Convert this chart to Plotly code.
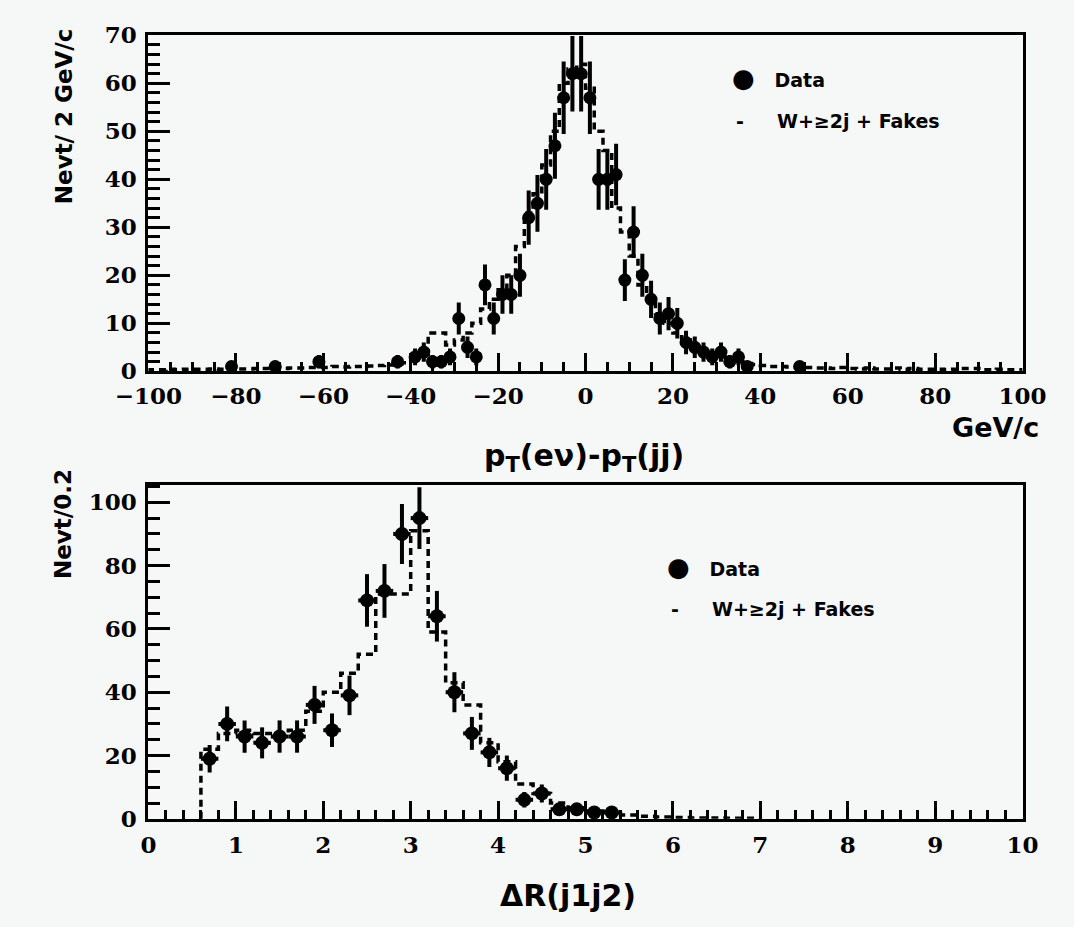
import numpy as np
import plotly.graph_objects as go

W, H = 1074, 927

# ---------------- top panel: pT(e nu) - pT(jj), 2 GeV/c bins ----------------
pt_data_centers = [-81, -71, -61, -43, -39, -37, -35, -33, -31, -29, -27, -25,
                   -23, -21, -19, -17, -15, -13, -11, -9, -7, -5, -3, -1,
                   1, 3, 5, 7, 9, 11, 13, 15, 17, 19, 21, 23, 25, 27, 29, 31,
                   33, 35, 37, 49]
pt_data_counts = [1, 1, 2, 2, 3, 4, 2, 2, 3, 11, 5, 3,
                  18, 11, 16, 16, 20, 32, 35, 40, 47, 57, 62, 62,
                  57, 40, 40, 41, 19, 29, 20, 15, 11, 12, 10, 6, 5, 4, 3, 4,
                  2, 3, 1, 1]

pt_bin_width = 2.0
pt_bin_low = list(range(-100, 100, 2))
pt_mc_counts = [
    0.3, 0.3, 0.4, 0.3, 0.4, 0.4, 0.4, 0.5, 0.4, 0.6,      # -100 .. -82
    0.5, 0.5, 0.6, 0.6, 0.7, 0.6, 0.7, 0.7, 0.8, 0.8,      # -80 .. -62
    0.8, 1.0, 0.9, 1.0, 1.0, 1.1, 1.2, 1.3, 1.5, 1.8,      # -60 .. -42
    2.3, 3.5, 8.0, 8.0, 5.5, 6.5, 8.0, 10.0, 13.0, 15.0,   # -40 .. -22
    17.0, 20.0, 26.0, 33.0, 37.0, 43.0, 50.0, 60.0, 63.0, 64.0,  # -20 .. -2
    59.0, 50.0, 46.0, 34.0, 29.0, 24.0, 18.0, 15.0, 12.0, 10.0,  # 0 .. 18
    8.0, 6.5, 5.0, 4.0, 3.5, 3.0, 2.5, 2.0, 1.6, 1.4,      # 20 .. 38
    1.2, 1.0, 1.0, 0.9, 0.9, 0.8, 0.7, 0.7, 0.6, 0.8,      # 40 .. 58
    0.6, 0.5, 0.7, 0.5, 0.5, 0.7, 0.4, 0.6, 0.4, 0.4,      # 60 .. 78
    0.4, 0.3, 0.4, 0.6, 0.6, 0.3, 0.3, 0.4, 0.3, 0.3,      # 80 .. 98
]

# ---------------- bottom panel: Delta R(j1 j2), 0.2 bins ----------------
dr_data_centers = [0.7, 0.9, 1.1, 1.3, 1.5, 1.7, 1.9, 2.1, 2.3, 2.5, 2.7, 2.9,
                   3.1, 3.3, 3.5, 3.7, 3.9, 4.1, 4.3, 4.5, 4.7, 4.9, 5.1, 5.3]
dr_data_counts = [19, 30, 26, 24, 26, 26, 36, 28, 39, 69, 72, 90,
                  95, 64, 40, 27, 21, 16, 6, 8, 3, 3, 2, 2]

dr_bin_width = 0.2
dr_bin_low = [0.6, 0.8, 1.0, 1.2, 1.4, 1.6, 1.8, 2.0, 2.2, 2.4, 2.6, 2.8,
              3.0, 3.2, 3.4, 3.6, 3.8, 4.0, 4.2, 4.4, 4.6, 4.8, 5.0, 5.2,
              5.4, 5.6, 5.8, 6.0, 6.2, 6.4, 6.6, 6.8]
dr_mc_counts = [22, 27, 28, 27, 27, 28, 34, 40, 46, 52, 71, 71,
                91, 59, 43, 36, 24, 18, 11, 8, 5, 3.5, 2.5, 1.8,
                1.2, 0.8, 0.6, 0.4, 0.3, 0.3, 0.2, 0.2]

# legend entries
legend_labels = ["Data", "W+\u22652j + Fakes"]

# ---------------- styling ----------------
INK = "black"
BG = "#f6f7f7"
SERIF = "DejaVu Serif"
SANS = "DejaVu Sans"
MC_DASH = "7px,5px"


def px_x(x):
    return x / W


def px_y(y):
    return 1 - y / H


def step_xy(lows, width, counts, drop_to_zero):
    xs = [lows[0]] + list(lows) + [lows[-1] + width]
    ys = [0] + list(counts) + [counts[-1]]
    if drop_to_zero:
        xs.append(lows[-1] + width)
        ys.append(0)
    return xs, ys


fig = go.Figure()

# top panel traces
mx, my = step_xy(pt_bin_low, pt_bin_width, pt_mc_counts, False)
fig.add_trace(go.Scatter(
    x=mx, y=my, mode="lines", line_shape="hv",
    line=dict(color=INK, width=3.5, dash=MC_DASH),
    xaxis="x", yaxis="y", showlegend=False, hoverinfo="skip"))
fig.add_trace(go.Scatter(
    x=pt_data_centers, y=pt_data_counts, mode="markers",
    marker=dict(symbol="circle", size=13, color=INK),
    error_y=dict(type="data", array=np.sqrt(pt_data_counts), color=INK,
                 thickness=4, width=0),
    error_x=dict(type="constant", value=pt_bin_width / 2, color=INK,
                 thickness=4, width=0),
    cliponaxis=False, xaxis="x", yaxis="y", showlegend=False))

# bottom panel traces
bx, by = step_xy(dr_bin_low, dr_bin_width, dr_mc_counts, True)
fig.add_trace(go.Scatter(
    x=bx, y=by, mode="lines", line_shape="hv",
    line=dict(color=INK, width=3.5, dash=MC_DASH),
    xaxis="x2", yaxis="y2", showlegend=False, hoverinfo="skip"))
fig.add_trace(go.Scatter(
    x=dr_data_centers, y=dr_data_counts, mode="markers",
    marker=dict(symbol="circle", size=14, color=INK),
    error_y=dict(type="data", array=np.sqrt(dr_data_counts), color=INK,
                 thickness=4, width=0),
    error_x=dict(type="constant", value=dr_bin_width / 2, color=INK,
                 thickness=4, width=0),
    cliponaxis=False, xaxis="x2", yaxis="y2", showlegend=False))

tick_font = dict(family=SERIF, size=23, color=INK, weight="bold")


def axis_common(**kw):
    base = dict(showline=True, linewidth=3, linecolor=INK, mirror=True,
                ticks="inside", tickwidth=3, tickcolor=INK,
                showgrid=False, zeroline=False, tickfont=tick_font)
    base.update(kw)
    return base


x_dom = [px_x(121), px_x(1045)]
fig.update_layout(
    width=W, height=H, margin=dict(l=0, r=0, t=0, b=0),
    paper_bgcolor=BG, plot_bgcolor=BG,
    xaxis=axis_common(domain=x_dom, range=[-100, 100], tick0=-100, dtick=20,
                      ticklen=18, ticklabelstandoff=2, anchor="y",
                      minor=dict(dtick=5, ticklen=9, tickwidth=3,
                                 ticks="inside", tickcolor=INK)),
    yaxis=axis_common(domain=[px_y(368), px_y(22)], range=[0, 70], dtick=10,
                      ticklen=22, ticklabelstandoff=4, anchor="x",
                      minor=dict(dtick=2, ticklen=12, tickwidth=3,
                                 ticks="inside", tickcolor=INK)),
    xaxis2=axis_common(domain=x_dom, range=[0, 10], dtick=1,
                       ticklen=18, ticklabelstandoff=4, anchor="y2",
                       minor=dict(dtick=0.2, ticklen=9, tickwidth=3,
                                  ticks="inside", tickcolor=INK)),
    yaxis2=axis_common(domain=[px_y(829), px_y(485)], range=[0, 105.5],
                       dtick=20, ticklen=22, ticklabelstandoff=4, anchor="x2",
                       minor=dict(dtick=5, ticklen=12, tickwidth=3,
                                  ticks="inside", tickcolor=INK)),
)

title_font = dict(family=SANS, size=30, color=INK, weight="bold")
unit_font = dict(family=SANS, size=27, color=INK, weight="bold")
label_font = dict(family=SANS, size=23, color=INK, weight="bold")
legend_font = dict(family=SANS, size=19, color=INK, weight="bold")


def note(text, x, y, font, xanchor="center", yanchor="middle", angle=0):
    fig.add_annotation(text=text, x=px_x(x), y=px_y(y), xref="paper",
                       yref="paper", showarrow=False, font=font,
                       xanchor=xanchor, yanchor=yanchor, textangle=angle)


# axis titles
note("Nevt/ 2 GeV/c", 32, 105, label_font, angle=-90)
note("Nevt/0.2", 30, 525, label_font, angle=-90)
note("GeV/c", 1064, 426, unit_font, xanchor="right")
note("p<sub>T</sub>(e\u03bd)-p<sub>T</sub>(jj)", 581, 457, title_font)
note("\u0394R(j1j2)", 565, 908, title_font)

# legends: a filled dot for the data, a short dash for the expectation
dot = "<span style='font-size:26px;font-weight:normal'>\u25cf</span>"
dash = "-&nbsp;"
for (lx, ly0, ly1) in [(736, 66, 110), (667, 570, 613)]:
    note(dot + "&nbsp;&nbsp;&nbsp;" + legend_labels[0], lx, ly0,
         legend_font, xanchor="left")
    note(dash + "&nbsp;&nbsp;&nbsp;&nbsp;" + legend_labels[1], lx + 4, ly1,
         legend_font, xanchor="left")

fig.write_html("out.html")
